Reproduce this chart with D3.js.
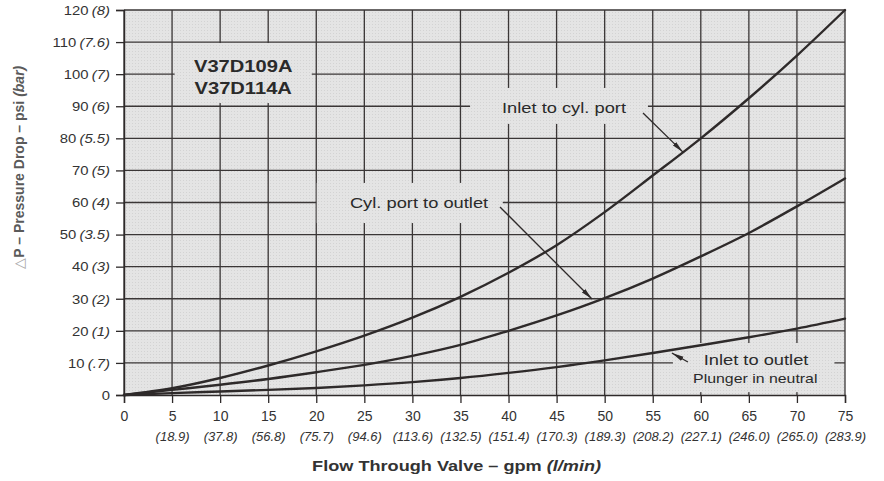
<!DOCTYPE html>
<html>
<head>
<meta charset="utf-8">
<script src="https://cdn.jsdelivr.net/npm/d3@7"></script>
<style>
  html, body { margin: 0; padding: 0; background: #fff; }
  svg { display: block; font-family: "Liberation Sans", Arial, Helvetica, sans-serif; }
</style>
</head>
<body>
<div id="content"></div>
<script>
// flujo en gpm (eje x) y equivalencia en l/min
const gpm = [0, 5, 10, 15, 20, 25, 30, 35, 40, 45, 50, 55, 60, 65, 70, 75];
const lpmLabels = ['', '18.9', '37.8', '56.8', '75.7', '94.6', '113.6', '132.5', '151.4',
                   '170.3', '189.3', '208.2', '227.1', '246.0', '265.0', '283.9'];

// caida de presion psi (eje y) y equivalencia en bar
const psiTicks = [0, 10, 20, 30, 40, 50, 60, 70, 80, 90, 100, 110, 120];
const barLabels = ['', '.7', '1', '2', '3', '3.5', '4', '5', '5.5', '6', '7', '7.6', '8'];

// curvas (psi por cada valor de gpm)
const inletToCyl    = [0, 2.1, 5.3, 9.2, 13.6, 18.5, 24.1, 30.6, 38.1, 46.7, 57.0, 68.4, 80.0, 92.5, 105.8, 120];
const cylToOutlet   = [0, 1.6, 3.2, 5.0, 7.1, 9.4, 12.2, 15.6, 20.0, 24.8, 30.2, 36.3, 43.2, 50.5, 58.8, 67.5];
const inletToOutlet = [0, 0.6, 1.1, 1.6, 2.2, 3.0, 4.0, 5.3, 6.9, 8.7, 10.8, 13.1, 15.5, 18.0, 20.7, 23.8];

const series = [inletToCyl, cylToOutlet, inletToOutlet];

document.addEventListener('DOMContentLoaded', () => {
    drawSVG();
});

// Texto ensanchado horizontalmente (el original esta escaneado algo estirado)
const stretchedText = (parent, px, py, sx) =>
    parent.append('g')
          .attr('transform', `translate(${px},${py}) scale(${sx},1)`)
          .append('text');

const drawSVG = () => {
    const width = 884;
    const height = 481;
    const margin = { top: 10, right: 39, bottom: 86, left: 124 };
    const plotBg = '#e4e4e4';
    const ink = '#2e2a2a';

    const svg = d3.select('#content')
                  .append('svg')
                  .attr('width', width)
                  .attr('height', height)
                  .style('background-color', '#ffffff');

    const x = d3.scaleLinear().domain([0, 75]).range([margin.left, width - margin.right]);
    const y = d3.scaleLinear().domain([0, 120]).range([height - margin.bottom, margin.top]);

    // patron de puntos del papel
    const defs = svg.append('defs');
    const pat = defs.append('pattern')
                    .attr('id', 'dots')
                    .attr('width', 3)
                    .attr('height', 3)
                    .attr('patternUnits', 'userSpaceOnUse');
    pat.append('rect').attr('width', 3).attr('height', 3).attr('fill', plotBg);
    pat.append('rect').attr('width', 1).attr('height', 1).attr('fill', '#d3d3d3');

    defs.append('marker')
        .attr('id', 'arrow')
        .attr('viewBox', '0 0 12 6')
        .attr('refX', 12)
        .attr('refY', 3)
        .attr('markerWidth', 12)
        .attr('markerHeight', 6)
        .attr('markerUnits', 'userSpaceOnUse')
        .attr('orient', 'auto')
        .append('path')
        .attr('d', 'M0,0.6 L12,3 L0,5.4 Z')
        .attr('fill', ink);

    // fondo del area de trazado
    svg.append('rect')
       .attr('x', x(0))
       .attr('y', y(120))
       .attr('width', x(75) - x(0))
       .attr('height', y(0) - y(120))
       .attr('fill', 'url(#dots)');

    // cuadricula
    const grid = svg.append('g').attr('stroke', '#3a3636').attr('stroke-width', 1.3);
    grid.selectAll('line.v')
        .data(gpm)
        .enter()
        .append('line')
        .attr('x1', d => x(d)).attr('x2', d => x(d))
        .attr('y1', y(0)).attr('y2', y(120));
    grid.selectAll('line.h')
        .data(psiTicks.slice(1))
        .enter()
        .append('line')
        .attr('x1', x(0)).attr('x2', x(75))
        .attr('y1', d => y(d)).attr('y2', d => y(d));

    // cajas que cortan la cuadricula detras de los textos
    const boxes = [
        [5.27, 19.53, 109.7, 91.0],
        [36.0, 54.5, 95.7, 84.5],
        [20.05, 39.4, 66.1, 53.6],
        [57.1, 73.9, 16.2, 0.9]
    ];
    svg.append('g')
       .selectAll('rect')
       .data(boxes)
       .enter()
       .append('rect')
       .attr('x', d => x(d[0]))
       .attr('y', d => y(d[2]))
       .attr('width', d => x(d[1]) - x(d[0]))
       .attr('height', d => y(d[3]) - y(d[2]))
       .attr('fill', 'url(#dots)');

    // eje y
    const yAxis = svg.append('g')
                     .attr('transform', `translate(${x(0)},0)`)
                     .call(d3.axisLeft(y).tickValues(psiTicks).tickSize(8).tickPadding(6).tickFormat(''));
    yAxis.select('.domain').attr('stroke', ink).attr('stroke-width', 1.4);
    yAxis.selectAll('.tick line').attr('stroke', ink).attr('stroke-width', 1.3);
    yAxis.selectAll('.tick text')
         .attr('fill', '#333')
         .attr('x', -14 / 1.1)
         .attr('transform', 'scale(1.1,1)')
         .style('font-size', '13.5px')
         .each(function(d, i) {
             const t = d3.select(this);
             t.append('tspan').text(d);
             if (barLabels[i]) {
                 t.append('tspan').attr('dx', 3).style('font-style', 'italic').text(`(${barLabels[i]})`);
             }
         });

    // eje x
    const xAxis = svg.append('g')
                     .attr('transform', `translate(0,${y(0)})`)
                     .call(d3.axisBottom(x).tickValues(gpm).tickSize(8).tickPadding(9).tickFormat(''));
    xAxis.select('.domain').attr('stroke', ink).attr('stroke-width', 1.4);
    xAxis.selectAll('.tick line').attr('stroke', ink).attr('stroke-width', 1.3);
    xAxis.selectAll('.tick text')
         .attr('fill', '#333')
         .style('font-size', '13px')
         .each(function(d, i) {
             const t = d3.select(this);
             t.append('tspan').attr('x', 0).style('font-size', '14px').text(d);
             if (lpmLabels[i]) {
                 t.append('tspan').attr('x', 0).attr('dy', '1.5em').style('font-style', 'italic').text(`(${lpmLabels[i]})`);
             }
         });

    // curvas
    const line = d3.line()
                   .x((d, i) => x(gpm[i]))
                   .y(d => y(d))
                   .curve(d3.curveMonotoneX);
    svg.append('g')
       .selectAll('path')
       .data(series)
       .enter()
       .append('path')
       .attr('d', line)
       .attr('fill', 'none')
       .attr('stroke', ink)
       .attr('stroke-width', 2.4)
       .attr('stroke-linecap', 'round');

    // flechas de las anotaciones
    const arrows = [
        [53.99, 87.9, 58.15, 75.7],
        [39.11, 58.6, 48.68, 29.9],
        [58.66, 10.3, 56.99, 13.1]
    ];
    svg.append('g')
       .selectAll('line')
       .data(arrows)
       .enter()
       .append('line')
       .attr('x1', d => x(d[0])).attr('y1', d => y(d[1]))
       .attr('x2', d => x(d[2])).attr('y2', d => y(d[3]))
       .attr('stroke', ink)
       .attr('stroke-width', 1.3)
       .attr('marker-end', 'url(#arrow)');

    // textos de las anotaciones
    const notes = [
        { text: 'Inlet to cyl. port', gx: 39.32, p: 87.9, size: 15 },
        { text: 'Cyl. port to outlet', gx: 23.5, p: 58.3, size: 15 },
        { text: 'Inlet to outlet', gx: 60.3, p: 9.35, size: 15 },
        { text: 'Plunger in neutral', gx: 59.2, p: 3.6, size: 13 }
    ];
    notes.forEach(n => {
        stretchedText(svg, x(n.gx), y(n.p), 1.22)
            .attr('fill', '#2a2a2a')
            .style('font-size', n.size + 'px')
            .text(n.text);
    });

    // titulo de los modelos
    const models = ['V37D109A', 'V37D114A'];
    models.forEach((m, i) => {
        stretchedText(svg, x(12.4), y(100.7) + i * 22, 1.22)
            .attr('text-anchor', 'middle')
            .attr('fill', '#2a2a2a')
            .style('font-size', '16.5px')
            .style('font-weight', 'bold')
            .text(m);
    });

    // titulo eje y
    const yTitle = svg.append('text')
                      .attr('transform', `translate(24,${y(71)}) rotate(-90)`)
                      .attr('text-anchor', 'middle')
                      .attr('fill', '#5a5a5a')
                      .style('font-size', '14px')
                      .style('font-weight', 'bold');
    yTitle.append('tspan').attr('fill', '#a8a8a8').style('font-weight', 'normal').text('\u25B3');
    yTitle.append('tspan').text('P \u2013 Pressure Drop \u2013 psi ');
    yTitle.append('tspan').style('font-style', 'italic').text('(bar)');

    // titulo eje x
    const xTitle = stretchedText(svg, x(34.6), 471, 1.17)
                      .attr('text-anchor', 'middle')
                      .attr('fill', '#333')
                      .style('font-size', '15.5px')
                      .style('font-weight', 'bold');
    xTitle.append('tspan').text('Flow Through Valve \u2013 gpm ');
    xTitle.append('tspan').style('font-style', 'italic').text('(l/min)');
};
</script>
</body>
</html>
